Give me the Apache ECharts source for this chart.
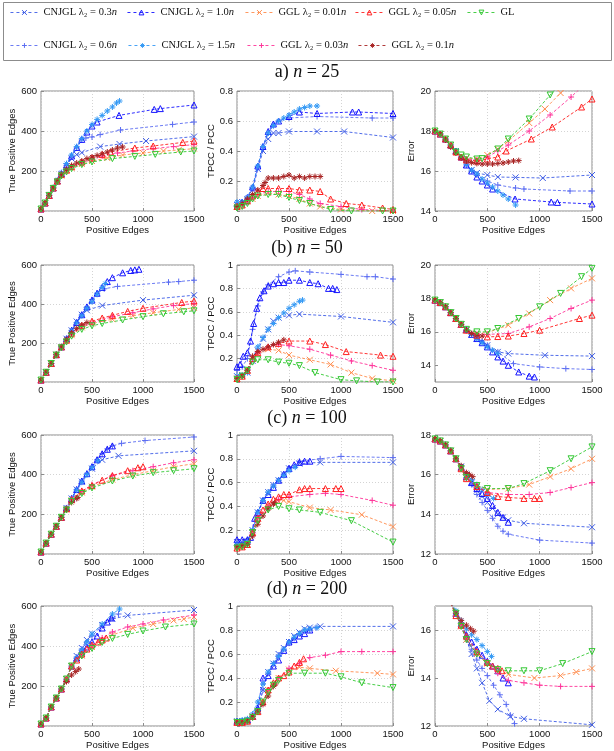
<!DOCTYPE html>
<html><head><meta charset="utf-8">
<script src="https://cdn.jsdelivr.net/npm/echarts@6/dist/echarts.min.js"></script>
<style>html,body{margin:0;padding:0;background:#fff}#c{width:614px;height:751px}</style>
</head><body><div id="c"></div><script>
// ---------- series meta ----------
const seriesNames = ['CNJGL λ₂ = 0.3n','CNJGL λ₂ = 0.6n','CNJGL λ₂ = 1.0n','CNJGL λ₂ = 1.5n','GGL λ₂ = 0.01n','GGL λ₂ = 0.03n','GGL λ₂ = 0.05n','GGL λ₂ = 0.1n','GL'];
const panelTitles = ['a) n = 25','(b) n = 50','(c) n = 100','(d) n = 200'];
const xTicks = [0, 500, 1000, 1500];

// ---------- n = 25 ----------
const tp25_A = [[0,10],[40,40],[80,78],[120,115],[160,150],[200,185],[250,225],[300,262],[350,282],[400,292],[580,322],[770,335],[1030,350],[1500,372]];
const tp25_B = [[0,10],[40,40],[80,78],[120,115],[160,150],[200,185],[250,228],[300,270],[350,315],[400,355],[440,365],[500,370],[580,382],[780,405],[1290,433],[1500,445]];
const tp25_C = [[0,10],[40,40],[80,78],[120,115],[160,150],[200,188],[250,230],[300,275],[350,318],[400,358],[450,395],[500,425],[550,445],[765,478],[1110,508],[1170,512],[1500,530]];
const tp25_D = [[0,10],[40,40],[80,80],[120,118],[160,155],[200,192],[250,237],[300,280],[350,322],[400,362],[450,400],[500,432],[550,458],[600,478],[650,500],[700,520],[740,540],[770,550]];
const tp25_E = [[0,10],[40,40],[80,78],[120,115],[160,148],[200,178],[250,200],[300,215],[400,235],[500,250],[650,265],[800,280],[1000,290],[1200,300],[1350,305],[1500,312]];
const tp25_F = [[0,10],[40,40],[80,78],[120,115],[160,148],[200,180],[250,203],[300,220],[400,240],[500,260],[600,275],[750,290],[900,300],[1100,312],[1300,322],[1500,332]];
const tp25_G = [[0,10],[40,40],[80,78],[120,115],[160,150],[200,182],[250,205],[300,222],[400,245],[500,265],[600,283],[680,295],[920,315],[1100,325],[1390,343],[1500,350]];
const tp25_H = [[0,10],[40,40],[80,78],[120,115],[160,150],[200,183],[250,208],[300,228],[350,240],[400,250],[450,262],[500,270],[550,278],[600,286],[650,295],[700,305],[750,315],[800,320]];
const tp25_I = [[0,10],[40,40],[80,78],[120,113],[160,145],[200,175],[250,195],[300,212],[400,232],[500,245],[700,262],[920,273],[1120,283],[1370,295],[1500,300]];

const pc25_A = [[0,0.04],[50,0.06],[100,0.08],[150,0.14],[200,0.28],[250,0.4],[300,0.48],[350,0.52],[400,0.52],[500,0.53],[770,0.53],[1030,0.53],[1500,0.49]];
const pc25_B = [[0,0.04],[50,0.05],[100,0.08],[150,0.15],[200,0.29],[250,0.42],[300,0.52],[350,0.57],[400,0.6],[500,0.62],[770,0.63],[1300,0.62],[1500,0.62]];
const pc25_C = [[0,0.05],[50,0.06],[100,0.09],[150,0.16],[200,0.3],[250,0.43],[300,0.53],[350,0.58],[400,0.6],[500,0.63],[600,0.66],[770,0.65],[1110,0.66],[1170,0.66],[1500,0.65]];
const pc25_D = [[0,0.06],[50,0.06],[100,0.09],[150,0.16],[200,0.3],[250,0.43],[300,0.52],[350,0.57],[400,0.6],[450,0.62],[500,0.64],[550,0.66],[600,0.68],[650,0.69],[700,0.7],[770,0.7]];
const pc25_E = [[0,0.03],[50,0.04],[100,0.06],[150,0.08],[200,0.1],[300,0.12],[400,0.11],[500,0.1],[600,0.08],[700,0.05],[800,0.03],[1000,0.01],[1300,0.0],[1500,0.0]];
const pc25_F = [[0,0.03],[50,0.04],[100,0.06],[150,0.09],[200,0.11],[300,0.13],[400,0.13],[500,0.13],[600,0.11],[700,0.08],[800,0.05],[1000,0.03],[1200,0.01],[1500,0.0]];
const pc25_G = [[0,0.03],[50,0.04],[100,0.07],[150,0.1],[200,0.13],[250,0.15],[300,0.15],[400,0.15],[500,0.15],[600,0.14],[700,0.14],[800,0.13],[900,0.08],[1050,0.05],[1200,0.04],[1400,0.02],[1500,0.01]];
const pc25_H = [[0,0.03],[50,0.05],[100,0.08],[150,0.11],[200,0.14],[250,0.17],[270,0.19],[300,0.22],[350,0.22],[400,0.22],[450,0.23],[500,0.24],[550,0.22],[600,0.23],[650,0.22],[700,0.23],[750,0.23],[800,0.23]];
const pc25_I = [[0,0.02],[50,0.03],[100,0.05],[150,0.08],[200,0.1],[300,0.11],[400,0.11],[500,0.09],[600,0.07],[700,0.05],[900,0.01],[1100,0.0],[1400,0.0],[1500,0.0]];

const er25_A = [[0,18],[50,17.85],[100,17.6],[150,17.3],[200,17.0],[250,16.7],[300,16.3],[350,16.05],[400,15.9],[500,15.8],[600,15.7],[770,15.68],[1030,15.65],[1500,15.8]];
const er25_B = [[0,18],[50,17.85],[100,17.6],[150,17.3],[200,17.0],[250,16.7],[300,16.3],[350,16.0],[400,15.8],[500,15.5],[600,15.3],[770,15.15],[850,15.1],[1290,15.0],[1500,15.0]];
const er25_C = [[0,18],[50,17.85],[100,17.6],[150,17.3],[200,17.0],[250,16.7],[300,16.3],[350,16.0],[400,15.7],[450,15.5],[500,15.3],[550,15.1],[765,14.6],[1110,14.45],[1170,14.43],[1500,14.35]];
const er25_D = [[0,18],[50,17.85],[100,17.6],[150,17.3],[200,17.0],[250,16.7],[300,16.35],[350,16.05],[400,15.85],[450,15.6],[500,15.4],[550,15.2],[600,15.0],[650,14.8],[700,14.6],[770,14.3]];
const er25_E = [[0,18],[50,17.85],[100,17.6],[150,17.3],[200,16.95],[250,16.75],[300,16.65],[400,16.6],[500,16.8],[600,17.1],[700,17.5],[900,18.4],[1050,19.1],[1200,19.9],[1300,20.4]];
const er25_F = [[0,18],[50,17.85],[100,17.6],[150,17.3],[200,16.95],[250,16.7],[300,16.6],[400,16.55],[500,16.7],[600,17.0],[700,17.3],[900,18.0],[1100,18.8],[1300,19.7],[1400,20.2]];
const er25_G = [[0,18],[50,17.85],[100,17.6],[150,17.3],[200,16.95],[250,16.7],[300,16.55],[400,16.5],[500,16.6],[600,16.7],[680,17.0],[920,17.6],[1120,18.2],[1400,19.2],[1500,19.6]];
const er25_H = [[0,18],[50,17.85],[100,17.55],[150,17.2],[200,16.9],[250,16.65],[300,16.5],[350,16.42],[400,16.38],[450,16.35],[500,16.35],[550,16.35],[600,16.38],[650,16.4],[700,16.45],[750,16.5],[800,16.52]];
const er25_I = [[0,18],[50,17.85],[100,17.6],[150,17.3],[200,16.95],[250,16.8],[300,16.7],[400,16.6],[450,16.62],[600,17.1],[700,17.6],[900,18.6],[1100,19.8],[1200,20.4]];

// ---------- n = 50 ----------
const tp50_A = [[0,10],[50,50],[100,95],[150,140],[200,180],[250,222],[300,265],[350,310],[400,345],[450,368],[600,392],[1000,420],[1500,445]];
const tp50_B = [[0,10],[50,50],[100,95],[150,140],[200,180],[250,222],[300,265],[350,305],[400,345],[450,385],[500,422],[550,455],[620,478],[750,490],[1250,512],[1350,515],[1500,522]];
const tp50_C = [[0,10],[50,50],[100,95],[150,140],[200,180],[250,222],[300,265],[350,305],[400,345],[450,385],[500,420],[550,455],[600,485],[650,515],[700,535],[800,560],[880,572],[920,575],[960,578]];
const tp50_D = [[0,10],[50,50],[100,95],[150,140],[200,180],[250,220],[300,262],[350,302],[400,340],[450,378],[500,412],[550,450],[600,485],[630,505]];
const tp50_E = [[0,10],[50,50],[100,95],[150,140],[200,178],[250,210],[300,240],[400,280],[500,300],[700,322],[900,340],[1100,355],[1350,372],[1500,380]];
const tp50_F = [[0,10],[50,50],[100,95],[150,140],[200,178],[250,212],[300,245],[400,285],[500,305],[700,335],[900,355],[1100,375],[1300,392],[1500,402]];
const tp50_G = [[0,10],[50,50],[100,95],[150,140],[200,180],[250,215],[300,250],[400,290],[500,312],[600,328],[700,342],[850,362],[1000,378],[1380,408],[1500,415]];
const tp50_H = [[0,10],[50,50],[100,95],[150,140],[200,180],[250,218],[300,252],[350,275],[400,292],[450,305]];
const tp50_I = [[0,10],[50,50],[100,95],[150,138],[200,175],[250,205],[300,235],[400,270],[500,288],[600,300],[800,318],[1000,335],[1200,350],[1400,360],[1500,365]];

const pc50_A = [[0,0.05],[50,0.06],[100,0.08],[150,0.18],[200,0.27],[250,0.37],[300,0.45],[350,0.52],[400,0.55],[500,0.57],[600,0.58],[1000,0.56],[1500,0.51]];
const pc50_B = [[0,0.1],[50,0.13],[100,0.2],[150,0.45],[200,0.65],[250,0.77],[300,0.83],[400,0.9],[500,0.94],[560,0.95],[700,0.94],[1000,0.92],[1250,0.9],[1330,0.9],[1500,0.88]];
const pc50_C = [[0,0.13],[30,0.15],[60,0.22],[100,0.25],[130,0.35],[160,0.5],[190,0.63],[220,0.72],[260,0.78],[300,0.82],[350,0.84],[400,0.85],[450,0.85],[500,0.87],[600,0.87],[700,0.85],[780,0.84],[880,0.8],[920,0.8],[960,0.79]];
const pc50_D = [[0,0.05],[50,0.06],[100,0.08],[150,0.2],[200,0.3],[250,0.38],[300,0.45],[350,0.5],[400,0.55],[450,0.59],[500,0.63],[550,0.66],[600,0.69],[630,0.7]];
const pc50_E = [[0,0.03],[50,0.05],[100,0.1],[150,0.2],[200,0.24],[300,0.28],[400,0.27],[500,0.23],[700,0.19],[900,0.15],[1100,0.08],[1300,0.03],[1500,0.01]];
const pc50_F = [[0,0.03],[50,0.05],[100,0.1],[150,0.2],[200,0.25],[300,0.3],[400,0.32],[500,0.31],[700,0.28],[900,0.23],[1100,0.18],[1300,0.14],[1500,0.1]];
const pc50_G = [[0,0.03],[50,0.05],[100,0.1],[150,0.2],[200,0.25],[300,0.3],[400,0.33],[500,0.35],[700,0.35],[850,0.32],[1050,0.26],[1380,0.23],[1500,0.22]];
const pc50_H = [[0,0.03],[50,0.05],[100,0.1],[150,0.22],[200,0.26],[250,0.28],[300,0.3],[350,0.32],[400,0.34],[450,0.36]];
const pc50_I = [[0,0.02],[50,0.05],[100,0.1],[150,0.17],[200,0.19],[300,0.19],[400,0.17],[500,0.16],[600,0.14],[750,0.08],[1000,0.02],[1150,0.01],[1350,0.0],[1500,0.0]];

const er50_A = [[0,17.9],[50,17.75],[100,17.5],[150,17.15],[200,16.8],[250,16.45],[300,16.1],[350,15.85],[400,15.6],[450,15.4],[500,15.2],[600,14.8],[700,14.7],[1050,14.6],[1500,14.55]];
const er50_B = [[0,17.9],[50,17.75],[100,17.5],[150,17.15],[200,16.8],[250,16.45],[300,16.1],[350,15.85],[400,15.6],[450,15.4],[500,15.2],[600,14.8],[750,14.1],[1000,13.9],[1250,13.8],[1500,13.75]];
const er50_C = [[0,17.9],[50,17.75],[100,17.5],[150,17.15],[200,16.8],[250,16.45],[300,16.15],[350,15.85],[400,15.6],[450,15.35],[500,15.1],[550,14.8],[600,14.5],[650,14.25],[700,14.0],[800,13.6],[900,13.35],[950,13.3]];
const er50_D = [[0,17.9],[50,17.75],[100,17.5],[150,17.15],[200,16.8],[250,16.45],[300,16.1],[350,15.85],[400,15.6],[450,15.35],[500,15.1],[550,14.9],[600,14.7]];
const er50_E = [[0,17.9],[50,17.75],[100,17.5],[150,17.15],[200,16.8],[250,16.45],[300,16.1],[400,15.9],[500,15.95],[700,16.4],[900,17.1],[1100,17.9],[1300,18.6],[1500,19.2]];
const er50_F = [[0,17.9],[50,17.75],[100,17.5],[150,17.15],[200,16.8],[250,16.45],[300,16.1],[400,15.85],[500,15.85],[700,15.9],[900,16.3],[1100,16.8],[1300,17.4],[1500,17.9]];
const er50_G = [[0,17.9],[50,17.75],[100,17.5],[150,17.15],[200,16.8],[250,16.45],[300,16.1],[400,15.8],[500,15.7],[600,15.72],[700,15.75],[850,15.9],[1000,16.1],[1380,16.8],[1500,17.0]];
const er50_H = [[0,17.9],[50,17.75],[100,17.5],[150,17.15],[200,16.8],[250,16.45],[300,16.1],[350,15.9],[400,15.8],[450,15.75]];
const er50_I = [[0,17.9],[50,17.75],[100,17.5],[150,17.15],[200,16.8],[250,16.45],[300,16.15],[400,16.0],[500,16.0],[600,16.2],[800,16.8],[1000,17.5],[1200,18.3],[1400,19.3],[1500,19.8]];

// ---------- n = 100 ----------
const tp100_A = [[0,10],[50,55],[100,100],[150,140],[200,185],[250,232],[300,280],[350,325],[400,365],[500,430],[600,475],[760,495],[1500,520]];
const tp100_B = [[0,10],[50,55],[100,100],[150,140],[200,185],[250,232],[300,280],[350,325],[400,368],[450,405],[500,440],[550,475],[600,505],[650,530],[700,545],[790,558],[1020,572],[1500,590]];
const tp100_C = [[0,10],[50,55],[100,100],[150,140],[200,185],[250,232],[300,280],[350,325],[400,368],[450,405],[500,440],[550,475],[600,505],[650,528],[700,545]];
const tp100_D = [[0,10],[50,55],[100,100],[150,140],[200,185],[250,230],[300,278],[350,322],[400,362],[450,400],[500,435],[560,470]];
const tp100_E = [[0,10],[50,55],[100,100],[150,140],[200,185],[250,225],[300,270],[400,310],[500,340],[700,375],[900,400],[1100,420],[1300,440],[1500,455]];
const tp100_F = [[0,10],[50,55],[100,100],[150,140],[200,185],[250,226],[300,272],[400,315],[500,350],[700,395],[900,420],[1100,440],[1300,460],[1500,475]];
const tp100_G = [[0,10],[50,55],[100,100],[150,140],[200,185],[250,228],[300,275],[400,318],[500,345],[600,372],[700,395],[850,420],[950,435],[1000,440]];
const tp100_H = [[0,10],[50,55],[100,100],[150,140],[200,185],[250,225],[300,260],[350,280],[360,285]];
const tp100_I = [[0,10],[50,55],[100,100],[150,140],[200,185],[250,222],[300,265],[400,305],[500,333],[700,368],[900,393],[1100,410],[1300,420],[1500,430]];

const pc100_A = [[0,0.1],[50,0.1],[100,0.11],[150,0.2],[200,0.35],[250,0.45],[300,0.52],[350,0.58],[400,0.62],[450,0.67],[500,0.72],[600,0.76],[800,0.77],[1500,0.77]];
const pc100_B = [[0,0.1],[50,0.1],[100,0.12],[150,0.2],[200,0.35],[250,0.45],[300,0.52],[350,0.58],[400,0.62],[450,0.67],[500,0.72],[600,0.78],[800,0.8],[1000,0.82],[1500,0.81]];
const pc100_C = [[0,0.12],[50,0.12],[100,0.12],[130,0.14],[170,0.3],[200,0.35],[250,0.45],[300,0.5],[350,0.56],[400,0.62],[450,0.67],[500,0.72],[550,0.75],[600,0.77],[650,0.78],[700,0.78]];
const pc100_D = [[0,0.08],[50,0.08],[100,0.1],[150,0.2],[200,0.35],[250,0.45],[300,0.52],[350,0.57],[400,0.62],[450,0.66],[500,0.7],[560,0.73]];
const pc100_E = [[0,0.05],[50,0.06],[100,0.08],[150,0.18],[200,0.3],[300,0.4],[400,0.44],[450,0.45],[500,0.44],[700,0.39],[900,0.37],[1200,0.33],[1500,0.23]];
const pc100_F = [[0,0.05],[50,0.06],[100,0.08],[150,0.18],[200,0.3],[300,0.4],[400,0.46],[500,0.48],[700,0.5],[850,0.51],[1000,0.5],[1300,0.45],[1500,0.41]];
const pc100_G = [[0,0.05],[50,0.06],[100,0.08],[150,0.18],[200,0.3],[250,0.37],[300,0.42],[350,0.46],[400,0.48],[450,0.5],[500,0.5],[600,0.54],[650,0.55],[700,0.55],[850,0.55],[950,0.55],[1000,0.55]];
const pc100_H = [[0,0.06],[50,0.07],[100,0.08],[150,0.15],[200,0.25],[250,0.32],[300,0.38],[350,0.42],[360,0.43]];
const pc100_I = [[0,0.05],[50,0.06],[100,0.08],[150,0.18],[200,0.28],[300,0.37],[400,0.4],[500,0.38],[600,0.37],[800,0.35],[1100,0.28],[1500,0.1]];

const er100_A = [[0,17.8],[50,17.7],[100,17.5],[150,17.2],[200,16.8],[250,16.4],[300,16.0],[350,15.6],[400,15.2],[450,14.9],[500,14.6],[550,14.3],[600,14.0],[650,13.85],[700,13.7],[850,13.55],[1500,13.35]];
const er100_B = [[0,17.8],[50,17.7],[100,17.5],[150,17.2],[200,16.8],[250,16.4],[300,16.0],[350,15.5],[400,15.0],[450,14.6],[500,14.2],[550,13.8],[600,13.4],[650,13.15],[700,13.0],[1000,12.7],[1500,12.55]];
const er100_C = [[0,17.8],[50,17.7],[100,17.5],[150,17.2],[200,16.8],[250,16.35],[300,15.9],[350,15.6],[400,15.3],[450,15.05],[500,14.8],[550,14.45],[600,14.1],[650,13.85],[700,13.6]];
const er100_D = [[0,17.8],[50,17.7],[100,17.5],[150,17.2],[200,16.8],[250,16.4],[300,16.0],[350,15.75],[400,15.5],[450,15.25],[500,15.0],[560,14.8]];
const er100_E = [[0,17.8],[50,17.7],[100,17.5],[150,17.2],[200,16.8],[250,16.3],[300,15.85],[400,15.45],[500,15.25],[700,15.3],[900,15.5],[1100,15.9],[1300,16.3],[1500,16.8]];
const er100_F = [[0,17.8],[50,17.7],[100,17.5],[150,17.2],[200,16.8],[250,16.3],[300,15.8],[400,15.4],[500,15.1],[700,15.0],[900,15.0],[1100,15.1],[1300,15.35],[1500,15.6]];
const er100_G = [[0,17.8],[50,17.7],[100,17.5],[150,17.2],[200,16.8],[250,16.3],[300,15.8],[400,15.4],[500,15.1],[600,14.9],[700,14.85],[850,14.8],[950,14.8],[1000,14.8]];
const er100_H = [[0,17.8],[50,17.7],[100,17.5],[150,17.2],[200,16.8],[250,16.45],[300,16.1],[330,16.0],[360,15.9]];
const er100_I = [[0,17.8],[50,17.7],[100,17.5],[150,17.2],[200,16.8],[250,16.3],[300,15.85],[400,15.45],[500,15.3],[700,15.3],[850,15.55],[1100,16.2],[1300,16.8],[1500,17.4]];

// ---------- n = 200 ----------
const tp200_A = [[0,10],[50,40],[100,95],[150,140],[200,185],[250,235],[300,300],[350,350],[400,390],[450,430],[500,462],[600,505],[700,535],[850,553],[1500,580]];
const tp200_B = [[0,10],[50,40],[100,95],[150,140],[200,185],[250,235],[300,300],[350,345],[400,385],[450,420],[500,450],[600,500],[700,540],[760,560]];
const tp200_C = [[0,10],[50,40],[100,95],[150,140],[200,185],[250,235],[300,300],[350,340],[400,370],[450,395],[500,420],[550,450],[600,490],[650,520],[690,540]];
const tp200_D = [[0,10],[50,40],[100,95],[150,140],[200,185],[250,232],[300,295],[350,340],[400,380],[450,420],[500,460],[600,510],[700,560],[770,585]];
const tp200_E = [[0,10],[50,40],[100,95],[150,140],[200,185],[250,235],[300,300],[400,352],[500,395],[600,430],[700,455],[900,490],[1100,510],[1300,528],[1400,535],[1500,545]];
const tp200_F = [[0,10],[50,40],[100,95],[150,140],[200,185],[250,235],[300,300],[400,355],[500,400],[600,440],[700,470],[850,495],[1000,510],[1200,530],[1500,555]];
const tp200_G = [[0,10],[50,40],[100,95],[150,140],[200,185],[250,235],[300,300],[350,330],[400,360],[450,385],[500,405],[560,420],[600,430],[640,440]];
const tp200_H = [[0,10],[50,40],[100,95],[150,140],[200,185],[250,222],[300,255],[340,272],[370,285]];
const tp200_I = [[0,10],[50,40],[100,95],[150,140],[200,185],[250,235],[300,300],[400,350],[500,388],[600,418],[700,438],[850,458],[1000,475],[1220,495],[1500,510]];

const pc200_A = [[0,0.04],[50,0.04],[100,0.05],[150,0.08],[200,0.13],[250,0.3],[300,0.45],[350,0.52],[400,0.6],[450,0.65],[500,0.7],[550,0.75],[600,0.78],[650,0.81],[700,0.82],[800,0.83],[1500,0.83]];
const pc200_B = [[0,0.04],[50,0.04],[100,0.05],[150,0.08],[200,0.14],[250,0.3],[300,0.44],[350,0.52],[400,0.59],[450,0.64],[500,0.69],[550,0.73],[600,0.77],[700,0.8],[760,0.82]];
const pc200_C = [[0,0.04],[50,0.04],[100,0.05],[150,0.08],[200,0.15],[250,0.4],[300,0.42],[350,0.5],[400,0.55],[450,0.63],[500,0.7],[550,0.72],[600,0.75],[650,0.77],[700,0.8]];
const pc200_D = [[0,0.04],[50,0.05],[100,0.06],[150,0.1],[200,0.2],[250,0.35],[300,0.45],[350,0.52],[400,0.58],[450,0.64],[500,0.7],[550,0.74],[600,0.77],[650,0.8],[700,0.81],[770,0.82]];
const pc200_E = [[0,0.03],[50,0.03],[100,0.04],[150,0.08],[200,0.12],[250,0.2],[300,0.3],[400,0.4],[500,0.47],[600,0.49],[700,0.48],[950,0.46],[1350,0.44],[1500,0.43]];
const pc200_F = [[0,0.03],[50,0.03],[100,0.04],[150,0.08],[200,0.12],[250,0.2],[300,0.3],[400,0.4],[500,0.48],[600,0.52],[700,0.57],[850,0.59],[1000,0.62],[1200,0.62],[1500,0.62]];
const pc200_G = [[0,0.03],[50,0.03],[100,0.04],[150,0.08],[200,0.12],[250,0.2],[300,0.3],[350,0.36],[400,0.4],[450,0.42],[500,0.45],[550,0.5],[600,0.53],[640,0.56]];
const pc200_H = [[0,0.03],[50,0.03],[100,0.04],[150,0.08],[200,0.12],[250,0.18],[300,0.25],[350,0.33],[370,0.35]];
const pc200_I = [[0,0.03],[50,0.03],[100,0.04],[150,0.07],[200,0.12],[250,0.2],[300,0.28],[350,0.34],[400,0.38],[500,0.44],[650,0.44],[850,0.44],[1000,0.41],[1200,0.36],[1500,0.32]];

const er200_A = [[0,17.9],[100,17.5],[150,17.15],[200,16.7],[250,16.2],[300,15.6],[350,15.0],[400,14.4],[450,13.8],[520,13.05],[600,12.7],[720,12.4],[850,12.3],[1500,12.05]];
const er200_B = [[0,17.9],[100,17.5],[150,17.15],[200,16.7],[250,16.2],[300,15.7],[350,15.2],[400,14.75],[450,14.4],[500,14.1],[560,13.7],[620,13.3],[680,12.9],[720,12.45],[760,12.1]];
const er200_C = [[0,17.9],[100,17.5],[150,17.15],[200,16.7],[250,16.25],[300,15.8],[350,15.5],[400,15.2],[450,14.95],[500,14.7],[550,14.5],[600,14.3],[650,14.0],[700,13.8]];
const er200_D = [[0,17.9],[100,17.5],[150,17.2],[200,16.8],[250,16.4],[300,16.05],[350,15.8],[400,15.6],[450,15.35],[500,15.1],[540,14.9]];
const er200_E = [[0,17.9],[100,17.5],[150,17.15],[200,16.7],[250,16.15],[300,15.6],[400,15.0],[500,14.6],[600,14.3],[700,14.15],[950,14.0],[1200,14.1],[1350,14.25],[1500,14.4]];
const er200_F = [[0,17.9],[100,17.5],[150,17.15],[200,16.7],[250,16.15],[300,15.6],[400,15.0],[500,14.6],[600,14.2],[700,13.9],[850,13.8],[1000,13.7],[1200,13.65],[1500,13.65]];
const er200_G = [[0,17.9],[100,17.5],[150,17.1],[200,16.6],[250,16.2],[300,15.75],[400,15.1],[500,14.65],[550,14.5],[600,14.4],[640,14.3]];
const er200_H = [[0,17.9],[100,17.5],[150,17.1],[200,16.7],[250,16.4],[300,16.2],[340,16.05],[370,15.95]];
const er200_I = [[0,17.9],[100,17.5],[150,17.15],[200,16.7],[250,16.15],[300,15.6],[400,15.0],[500,14.6],[600,14.35],[700,14.3],[850,14.3],[1000,14.3],[1220,14.6],[1500,15.1]];

// ---------- assembling ----------
const panelData = [
  [[tp25_A,tp25_B,tp25_C,tp25_D,tp25_E,tp25_F,tp25_G,tp25_H,tp25_I],
   [pc25_A,pc25_B,pc25_C,pc25_D,pc25_E,pc25_F,pc25_G,pc25_H,pc25_I],
   [er25_A,er25_B,er25_C,er25_D,er25_E,er25_F,er25_G,er25_H,er25_I]],
  [[tp50_A,tp50_B,tp50_C,tp50_D,tp50_E,tp50_F,tp50_G,tp50_H,tp50_I],
   [pc50_A,pc50_B,pc50_C,pc50_D,pc50_E,pc50_F,pc50_G,pc50_H,pc50_I],
   [er50_A,er50_B,er50_C,er50_D,er50_E,er50_F,er50_G,er50_H,er50_I]],
  [[tp100_A,tp100_B,tp100_C,tp100_D,tp100_E,tp100_F,tp100_G,tp100_H,tp100_I],
   [pc100_A,pc100_B,pc100_C,pc100_D,pc100_E,pc100_F,pc100_G,pc100_H,pc100_I],
   [er100_A,er100_B,er100_C,er100_D,er100_E,er100_F,er100_G,er100_H,er100_I]],
  [[tp200_A,tp200_B,tp200_C,tp200_D,tp200_E,tp200_F,tp200_G,tp200_H,tp200_I],
   [pc200_A,pc200_B,pc200_C,pc200_D,pc200_E,pc200_F,pc200_G,pc200_H,pc200_I],
   [er200_A,er200_B,er200_C,er200_D,er200_E,er200_F,er200_G,er200_H,er200_I]]
];

const SYM = {
  x: 'path://M0,0L10,10M10,0L0,10',
  plus: 'path://M5,0L5,10M0,5L10,5',
  tri: 'path://M5,0L10,9L0,9Z',
  tridown: 'path://M0,0L10,0L5,9Z',
  star: 'path://M5,0L5,10M0,5L10,5M1.6,1.6L8.4,8.4M8.4,1.6L1.6,8.4'
};
const styles = [
  {color:'#3d5ce6', sym:SYM.x},
  {color:'#5a6cf2', sym:SYM.plus},
  {color:'#1414ff', sym:SYM.tri},
  {color:'#3399f5', sym:SYM.star},
  {color:'#ff8c4d', sym:SYM.x},
  {color:'#ff3399', sym:SYM.plus},
  {color:'#ff2020', sym:SYM.tri},
  {color:'#a82424', sym:SYM.star},
  {color:'#33c833', sym:SYM.tridown}
];

const colLeft = [41, 237, 435], colW = [153, 156, 157];
const rowTop = [91, 265, 435, 606], rowH = [120, 117, 119, 120];
const titleTop = [63, 239, 409, 580];

const SANS = 'Liberation Sans, Arial, sans-serif';
const SERIF = 'Liberation Serif, DejaVu Serif, serif';
const gridCol = '#d4d4d4';
const boxCol = '#8c8c8c';

const grids = [], xAxes = [], yAxes = [], series = [];
function yCfg(kind, row) {
  const base = {
    type:'value', nameLocation:'middle', nameRotate:90,
    nameTextStyle:{fontSize:9.5, color:'#111', fontFamily:SANS},
    axisLine:{show:false},
    axisTick:{show:true, inside:true, length:3, lineStyle:{color:boxCol}},
    axisLabel:{fontSize:9.5, color:'#111', fontFamily:SANS, margin:4},
    splitLine:{show:true, lineStyle:{color:gridCol, type:[1,2], width:1}}
  };
  if (kind === 0) {
    return Object.assign(base, {name:'True Positive Edges', nameGap:21, min:0, max:600, interval:200,
      axisLabel:Object.assign(base.axisLabel,{formatter:v => v === 0 ? '' : String(v)})});
  }
  if (kind === 1) {
    return Object.assign(base, {name:'TPCC / PCC', nameGap:15, min:0, max: row === 0 ? 0.8 : 1, interval:0.2,
      axisLabel:Object.assign(base.axisLabel,{formatter:v => v === 0 ? '' : String(+v.toFixed(1))})});
  }
  const ranges = [[14,20,2],[13,20,1],[12,18,2],[12,17,1]];
  const r = ranges[row];
  const cfg = Object.assign(base, {name:'Error', nameGap:12, min:r[0], max:r[1], interval:r[2],
    axisLabel:Object.assign(base.axisLabel,{formatter:v => (v % 2 === 0) ? String(v) : ''})});
  if (r[2] === 1) {
    const even0 = r[0] % 2 === 0;
    cfg.splitLine = {show:true, showMinLine:true, lineStyle:{color: even0 ? [gridCol,'rgba(0,0,0,0)'] : ['rgba(0,0,0,0)',gridCol], type:[1,2], width:1}};
    const ev = []; for (let v = r[0]; v <= r[1]; v++) if (v % 2 === 0) ev.push(v);
    cfg.axisTick = {show:true, inside:true, length:3, lineStyle:{color:boxCol}, customValues: ev};
  }
  return cfg;
}

for (let row = 0; row < 4; row++) {
  for (let col = 0; col < 3; col++) {
    const g = row * 3 + col;
    grids.push({left:colLeft[col], top:rowTop[row], width:colW[col], height:rowH[row],
      show:true, borderColor:boxCol, borderWidth:1, backgroundColor:'#fff', containLabel:false});
    xAxes.push({type:'value', gridIndex:g, min:xTicks[0], max:xTicks[xTicks.length-1], interval:xTicks[1]-xTicks[0],
      name:'Positive Edges', nameLocation:'middle', nameGap:14,
      nameTextStyle:{fontSize:9.5, color:'#111', fontFamily:SANS},
      axisLine:{show:false},
      axisTick:{show:true, inside:true, length:3, lineStyle:{color:boxCol}},
      axisLabel:{fontSize:9.5, color:'#111', fontFamily:SANS, margin:3, showMinLabel:true, showMaxLabel:true, formatter:v => String(v)},
      splitLine:{show:true, lineStyle:{color:gridCol, type:[1,2], width:1}}});
    const y = yCfg(col, row); y.gridIndex = g; yAxes.push(y);
    const sets = panelData[row][col];
    for (let s = 0; s < 9; s++) {
      const st = styles[s];
      series.push({
        type:'line', name:seriesNames[s], xAxisIndex:g, yAxisIndex:g, data:sets[s],
        symbol:st.sym, symbolSize:6, showSymbol:true, showAllSymbol:true, clip:true,
        lineStyle:{color:st.color, width:0.9, type:[3,2]},
        itemStyle:{color:'rgba(0,0,0,0)', borderColor:st.color, borderWidth:1},
        emphasis:{disabled:true}, silent:true, animation:false, z:2+s
      });
    }
  }
}

// legends (one per entry, positioned as in the reference)
const legendPos = [[10,14],[10,47],[127,14],[128,47],[245,14],[247,47],[355,14],[358,47],[467,14]];
const legends = seriesNames.map((nm, i) => ({
  data:[nm], left:legendPos[i][0], top:legendPos[i][1] - 7, padding:0,
  itemWidth:28, itemHeight:6, itemGap:0, selectedMode:false,
  itemStyle:{color:'rgba(0,0,0,0)', borderColor:styles[i].color, borderWidth:1},
  lineStyle:{color:styles[i].color, width:0.9, type:[3,3]},
  formatter: t => t.endsWith('n') ? '{t|' + t.slice(0,-1) + '}{i|n}' : '{t|' + t + '}',
  textStyle:{fontSize:10.5, fontFamily:SERIF, color:'#111',
    rich:{t:{fontSize:10.5, fontFamily:SERIF, color:'#111'}, i:{fontSize:10.5, fontFamily:SERIF, fontStyle:'italic', color:'#111'}}}
}));

const titles = panelTitles.map((t, i) => {
  const m = t.match(/^(.*)n( = \d+)$/);
  return {
    text:'{r|' + m[1] + '}{i|n}{r|' + m[2] + '}', left:'center', top:titleTop[i], padding:0,
    textStyle:{fontSize:18, fontWeight:'normal', fontFamily:SERIF, color:'#111',
      rich:{r:{fontSize:18, fontFamily:SERIF, color:'#111'}, i:{fontSize:18, fontFamily:SERIF, fontStyle:'italic', color:'#111'}}}
  };
});

const chart = echarts.init(document.getElementById('c'), null, {renderer:'canvas'});
chart.setOption({
  backgroundColor:'#fff',
  animation:false,
  title:titles,
  legend:legends,
  grid:grids, xAxis:xAxes, yAxis:yAxes, series:series,
  graphic:[{type:'rect', shape:{x:3.5, y:2.5, width:608, height:58}, style:{fill:'none', stroke:'#8c8c8c', lineWidth:1}, silent:true, z:-1}]
});
</script></body></html>
